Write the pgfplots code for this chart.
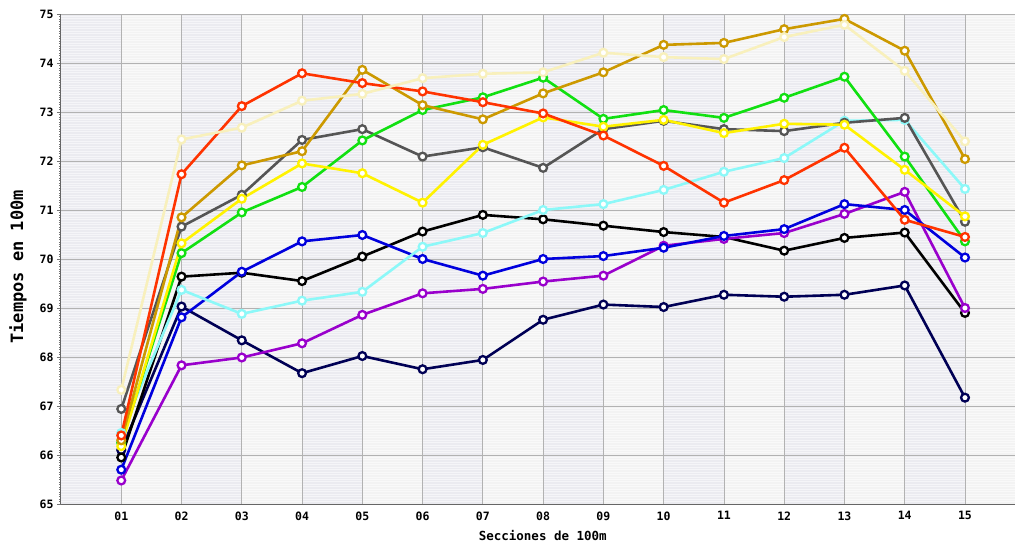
\documentclass[border=0pt]{standalone}
\usepackage{fontspec}
\setmainfont{DejaVu Sans Mono}
\usepackage{pgfplots}
\usepackage{pgfplotstable}
\pgfplotsset{compat=1.18}

\definecolor{cCream}{HTML}{F8F0BC}
\definecolor{cRed}{HTML}{FF3300}
\definecolor{cGold}{HTML}{CC9900}
\definecolor{cGray}{HTML}{555555}
\definecolor{cYellow}{HTML}{FFF200}
\definecolor{cGreen}{HTML}{11E011}
\definecolor{cCyan}{HTML}{8CF8F8}
\definecolor{cBlue}{HTML}{0000DD}
\definecolor{cBlack}{HTML}{000000}
\definecolor{cPurple}{HTML}{9900CC}
\definecolor{cNavy}{HTML}{000055}
\definecolor{bandDark}{HTML}{EBEBF0}
\definecolor{bandLight}{HTML}{F3F3F3}

% secciones 01..15, tiempos por nadador
\pgfplotstableread{
sec cream red gold gray yellow green cyan blue black purple navy
1  67.33 66.40 66.30 66.94 66.18 66.25 66.45 65.70 65.95 65.48 66.10
2  72.44 71.73 70.85 70.66 70.32 70.12 69.37 68.81 69.64 67.83 69.03
3  72.68 73.12 71.91 71.31 71.23 70.95 68.88 69.74 69.72 67.99 68.34
4  73.23 73.79 72.20 72.43 71.95 71.47 69.15 70.36 69.55 68.28 67.67
5  73.37 73.59 73.86 72.65 71.75 72.42 69.33 70.49 70.05 68.86 68.02
6  73.69 73.42 73.14 72.09 71.15 73.04 70.25 70.00 70.56 69.30 67.75
7  73.78 73.20 72.85 72.28 72.33 73.30 70.53 69.66 70.90 69.39 67.94
8  73.81 72.97 73.38 71.86 72.89 73.70 71.00 70.00 70.81 69.54 68.76
9  74.21 72.52 73.81 72.65 72.70 72.86 71.12 70.06 70.68 69.66 69.07
10 74.12 71.90 74.37 72.82 72.84 73.04 71.41 70.23 70.55 70.27 69.02
11 74.08 71.15 74.41 72.65 72.57 72.88 71.78 70.47 70.45 70.41 69.27
12 74.53 71.61 74.69 72.61 72.76 73.29 72.06 70.61 70.17 70.53 69.23
13 74.78 72.27 74.90 72.78 72.74 73.72 72.82 71.12 70.43 70.92 69.27
14 73.84 70.80 74.25 72.88 71.82 72.09 72.84 71.00 70.54 71.37 69.46
15 72.40 70.45 72.04 70.76 70.87 70.36 71.43 70.03 68.90 69.00 67.17
}\tiempos

\pgfplotsset{
    band/.style={fill=bandDark, draw=none, mark=none, line width=0pt,
        on layer=axis background},
    runner/.style={line width=2.6pt, mark=*, mark size=3.9pt,
        mark options={fill=white, line width=2.3pt}},
}

\begin{document}
\begin{tikzpicture}
\begin{axis}[
    set layers,
    at={(0,0)}, anchor=south west,
    scale only axis,
    width=954pt, height=490pt,
    xmin=0, xmax=15.83,
    ymin=65, ymax=75,
    axis background/.style={fill=bandLight},
    xtick={1,...,15},
    xticklabels={01,02,03,04,05,06,07,08,09,10,11,12,13,14,15},
    extra x ticks={1,...,15},
    extra x tick labels={},
    extra x tick style={grid=major, xmajorgrids=true,
        major grid style={draw=black!30, line width=0.8pt}},
    ytick={65,...,75},
    minor y tick num=19,
    /pgf/number format/assume math mode=true,
    ticklabel style={font=\fontsize{11.5}{12}\selectfont\bfseries},
    axis x line*=bottom, axis y line*=left,
    axis line style={draw=black!60, line width=1pt, -},
    tick align=outside,
    xtick style={draw=none},
    ytick style={draw=black!55, line width=0.5pt},
    major tick length=4pt, minor tick length=2pt,
    xmajorgrids=false,
    ymajorgrids=true, yminorgrids=true,
    major grid style={draw=black!30, line width=0.8pt},
    minor y grid style={draw=white, opacity=0.55, line width=1pt},
    xlabel={Secciones de 100m},
    ylabel={Tiempos en 100m},
    xlabel style={font=\fontsize{12.5}{13}\selectfont\bfseries,
        at={(axis description cs:0.505,-0.0653)}, anchor=center},
    ylabel style={font=\fontsize{17}{18}\selectfont\bfseries,
        at={(axis description cs:-0.0451,0.484)}, anchor=center},
    clip=false,
]
% franjas verticales oscuras
\addplot[band] coordinates {(0,65) (0,75) (1,75) (1,65)} -- cycle;
\addplot[band] coordinates {(2,65) (2,75) (3,75) (3,65)} -- cycle;
\addplot[band] coordinates {(4,65) (4,75) (5,75) (5,65)} -- cycle;
\addplot[band] coordinates {(6,65) (6,75) (7,75) (7,65)} -- cycle;
\addplot[band] coordinates {(8,65) (8,75) (9,75) (9,65)} -- cycle;
\addplot[band] coordinates {(10,65) (10,75) (11,75) (11,65)} -- cycle;
\addplot[band] coordinates {(12,65) (12,75) (13,75) (13,65)} -- cycle;
\addplot[band] coordinates {(14,65) (14,75) (15,75) (15,65)} -- cycle;

\addplot[runner, cNavy]   table[x=sec, y=navy]   {\tiempos};
\addplot[runner, cBlack]  table[x=sec, y=black]  {\tiempos};
\addplot[runner, cPurple] table[x=sec, y=purple] {\tiempos};
\addplot[runner, cBlue]   table[x=sec, y=blue]   {\tiempos};
\addplot[runner, cCyan]   table[x=sec, y=cyan]   {\tiempos};
\addplot[runner, cGray]   table[x=sec, y=gray]   {\tiempos};
\addplot[runner, cGreen]  table[x=sec, y=green]  {\tiempos};
\addplot[runner, cYellow] table[x=sec, y=yellow] {\tiempos};
\addplot[runner, cGold]   table[x=sec, y=gold]   {\tiempos};
\addplot[runner, cRed]    table[x=sec, y=red]    {\tiempos};
\addplot[runner, cCream]  table[x=sec, y=cream]  {\tiempos};
\end{axis}
\pgfresetboundingbox
\useasboundingbox (-61pt,-40pt) rectangle (954pt,504pt);
\end{tikzpicture}
\end{document}
